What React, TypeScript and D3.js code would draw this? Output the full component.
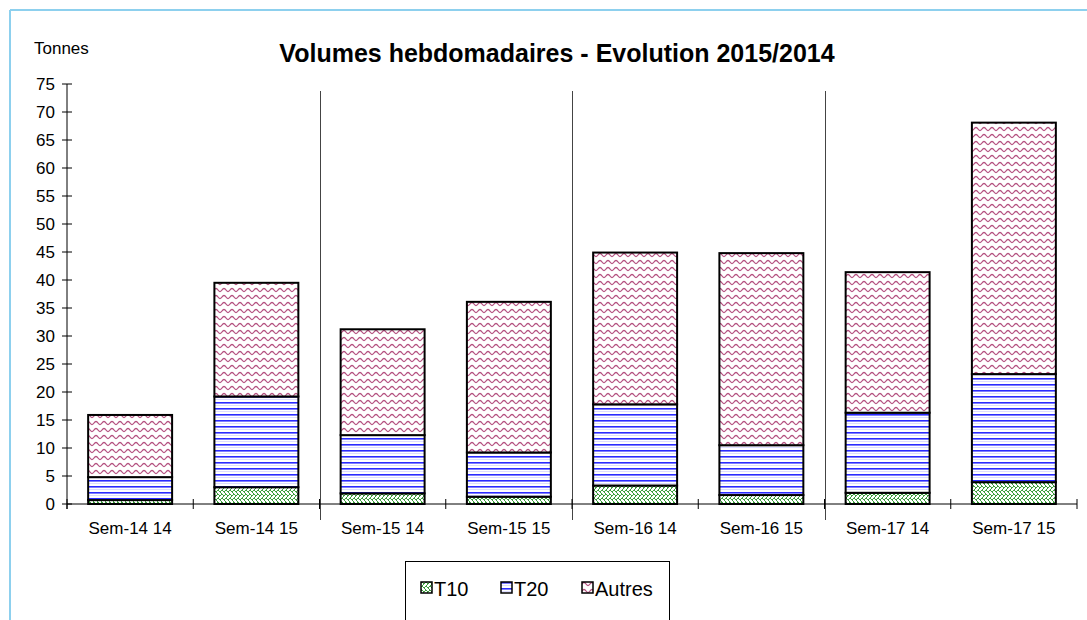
import { useEffect, useRef } from 'react';
import * as d3 from 'd3';

const categories = ['Sem-14 14', 'Sem-14 15', 'Sem-15 14', 'Sem-15 15', 'Sem-16 14', 'Sem-16 15', 'Sem-17 14', 'Sem-17 15'];
const t10 = [0.7, 3.0, 1.9, 1.3, 3.3, 1.6, 2.0, 3.9];
const t20 = [4.1, 16.2, 10.4, 7.9, 14.5, 8.9, 14.3, 19.3];
const autres = [11.1, 20.3, 18.9, 26.9, 27.1, 34.3, 25.1, 44.9];
const seriesNames = ['T10', 'T20', 'Autres'];
const yTicks = d3.range(0, 80, 5);

const W = 1087;
const H = 620;

export default function App() {
  const ref = useRef<SVGSVGElement>(null);

  useEffect(() => {
    const svg = d3.select(ref.current);
    svg.selectAll('*').remove();

    const font = 'Arial, "Liberation Sans", sans-serif';
    const left = 67, right = 1077, top = 84, bottom = 504;

    // patterns
    const defs = svg.append('defs');
    const pT10 = defs.append('pattern').attr('id', 'p-t10').attr('patternUnits', 'userSpaceOnUse')
      .attr('width', 8).attr('height', 8);
    pT10.append('rect').attr('width', 8).attr('height', 8).attr('fill', '#fff');
    pT10.append('path')
      .attr('d', 'M0,4 L2,2 L4,4 L6,2 L8,4 M0,8 L2,6 L4,8 L6,6 L8,8 M2,2 L4,0 M6,2 L8,0 M2,6 L0,4 M6,6 L4,4')
      .attr('stroke', '#3f9f3f').attr('stroke-width', 1).attr('fill', 'none');

    const pT20 = defs.append('pattern').attr('id', 'p-t20').attr('patternUnits', 'userSpaceOnUse')
      .attr('width', 8).attr('height', 6);
    pT20.append('rect').attr('width', 8).attr('height', 6).attr('fill', '#fff');
    pT20.append('rect').attr('y', 0).attr('width', 8).attr('height', 1.6).attr('fill', '#2b2bff');
    pT20.append('rect').attr('y', 3).attr('width', 8).attr('height', 1).attr('fill', '#dcdcff');

    const pAut = defs.append('pattern').attr('id', 'p-aut').attr('patternUnits', 'userSpaceOnUse')
      .attr('width', 8).attr('height', 7);
    pAut.append('rect').attr('width', 8).attr('height', 7).attr('fill', '#fff');
    pAut.append('path')
      .attr('d', 'M0,1.5 C2,1.5 2,4.5 4,4.5 C6,4.5 6,1.5 8,1.5')
      .attr('stroke', '#b4507f').attr('stroke-width', 1.3).attr('fill', 'none');

    const fills = ['url(#p-t10)', 'url(#p-t20)', 'url(#p-aut)'];

    // frame
    svg.append('line').attr('x1', 10).attr('x2', W).attr('y1', 10).attr('y2', 10)
      .attr('stroke', '#8dd0ee').attr('stroke-width', 2);
    svg.append('line').attr('x1', 10).attr('x2', 10).attr('y1', 10).attr('y2', H)
      .attr('stroke', '#8dd0ee').attr('stroke-width', 2);

    svg.append('text').attr('x', 557).attr('y', 62).attr('text-anchor', 'middle')
      .attr('font-family', font).attr('font-weight', 'bold').attr('font-size', 25)
      .text('Volumes hebdomadaires - Evolution 2015/2014');
    svg.append('text').attr('x', 34).attr('y', 54)
      .attr('font-family', font).attr('font-size', 17).text('Tonnes');

    const x = d3.scaleBand<string>().domain(categories).range([left, right])
      .paddingInner(0.335).paddingOuter(0.1675);
    const y = d3.scaleLinear().domain([0, 75]).range([bottom, top]);

    const rows = categories.map((c, i) => ({ cat: c, T10: t10[i], T20: t20[i], Autres: autres[i] }));
    const stacked = d3.stack<any>().keys(seriesNames)(rows);

    // separators between week pairs
    const step = x.step();
    [2, 4, 6].forEach(i => {
      const sx = Math.round(left + i * step) + 0.5;
      svg.append('line').attr('x1', sx).attr('x2', sx).attr('y1', 91).attr('y2', 520)
        .attr('stroke', '#444').attr('stroke-width', 1);
    });

    // bars
    stacked.forEach((s, k) => {
      svg.append('g').selectAll('rect').data(s).join('rect')
        .attr('x', d => x(d.data.cat)!)
        .attr('width', x.bandwidth())
        .attr('y', d => y(d[1]))
        .attr('height', d => y(d[0]) - y(d[1]))
        .attr('fill', fills[k])
        .attr('stroke', '#000').attr('stroke-width', 2);
    });

    // y axis
    const ya = svg.append('g');
    ya.append('line').attr('x1', left).attr('x2', left).attr('y1', y(75)).attr('y2', bottom + 5)
      .attr('stroke', '#000').attr('stroke-width', 1);
    yTicks.forEach(t => {
      ya.append('line').attr('x1', left - 5).attr('x2', left + 5).attr('y1', y(t)).attr('y2', y(t))
        .attr('stroke', '#000');
      ya.append('text').attr('x', 55).attr('y', y(t)).attr('dy', '0.36em').attr('text-anchor', 'end')
        .attr('font-family', font).attr('font-size', 17).text(t);
    });

    // x axis
    const xa = svg.append('g');
    xa.append('line').attr('x1', left).attr('x2', right).attr('y1', bottom).attr('y2', bottom)
      .attr('stroke', '#000');
    d3.range(categories.length + 1).forEach(i => {
      const tx = left + i * step;
      xa.append('line').attr('x1', tx).attr('x2', tx).attr('y1', bottom - 5).attr('y2', bottom + 5)
        .attr('stroke', '#000');
    });
    categories.forEach(c => {
      xa.append('text').attr('x', x(c)! + x.bandwidth() / 2).attr('y', 534).attr('text-anchor', 'middle')
        .attr('font-family', font).attr('font-size', 17).text(c);
    });

    // legend
    const lg = svg.append('g');
    lg.append('rect').attr('x', 405.5).attr('y', 561.5).attr('width', 264).attr('height', 70)
      .attr('fill', '#fff').attr('stroke', '#000');
    const lx = [421, 501, 582];
    seriesNames.forEach((n, k) => {
      lg.append('rect').attr('x', lx[k]).attr('y', 582).attr('width', 11).attr('height', 11)
        .attr('fill', fills[k]).attr('stroke', '#000').attr('stroke-width', 1.5);
      lg.append('text').attr('x', lx[k] + 13).attr('y', 596)
        .attr('font-family', font).attr('font-size', 20).text(n);
    });
  }, []);

  return (
    <>
      <style>{'body{margin:0}'}</style>
      <svg ref={ref} width={W} height={H} style={{ display: 'block', background: '#fff' }} />
    </>
  );
}
